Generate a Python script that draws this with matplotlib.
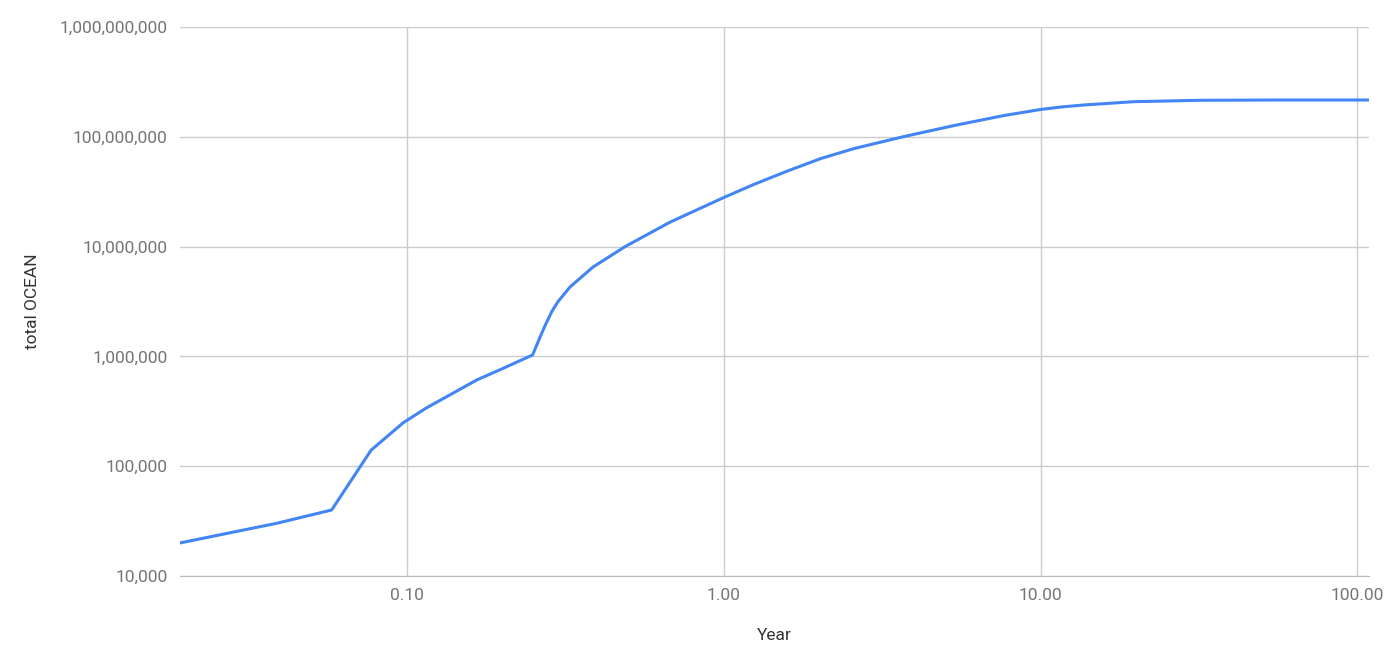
import matplotlib
matplotlib.use("Agg")
import matplotlib.pyplot as plt
from matplotlib.ticker import FixedLocator, FuncFormatter, NullLocator

plt.rcParams['font.family'] = ['Roboto', 'DejaVu Sans']

# values (log-log)
years = [0.0192, 0.0388, 0.0578, 0.077, 0.0973, 0.1154, 0.1335, 0.166, 0.2014,
         0.249, 0.263, 0.2727, 0.287, 0.2997, 0.327, 0.3866, 0.488, 0.6766,
         1.0, 1.246, 1.589, 2.024, 2.579, 3.71, 5.34, 7.67, 10.0, 11.6, 13.7,
         19.7, 31.9, 57.3, 109.0]
total_ocean = [20000, 30200, 39900, 140000, 249000, 341000, 430000, 610000, 780000,
               1.03e6, 1.50e6, 1.91e6, 2.59e6, 3.16e6, 4.29e6, 6.52e6, 1.0e7, 1.67e7,
               2.80e7, 3.69e7, 4.88e7, 6.34e7, 7.82e7, 1.006e8, 1.267e8, 1.563e8, 1.773e8,
               1.868e8, 1.948e8, 2.088e8, 2.150e8, 2.164e8, 2.164e8]

x_ticks = [0.1, 1, 10, 100]
y_ticks = [1e4, 1e5, 1e6, 1e7, 1e8, 1e9]

fig = plt.figure(figsize=(14, 6.52), dpi=100)
ax = fig.add_axes([0.1286, 0.1166, 0.8494, 0.842])

ax.plot(years, total_ocean, color='#4285F4', linewidth=2.2, solid_joinstyle='round')

ax.set_xscale('log')
ax.set_yscale('log')
ax.set_xlim(0.0192, 109)
ax.set_ylim(1e4, 1e9)

ax.xaxis.set_major_locator(FixedLocator(x_ticks))
ax.yaxis.set_major_locator(FixedLocator(y_ticks))
ax.xaxis.set_minor_locator(NullLocator())
ax.yaxis.set_minor_locator(NullLocator())
ax.xaxis.set_major_formatter(FuncFormatter(lambda v, p: f"{v:.2f}"))
ax.yaxis.set_major_formatter(FuncFormatter(lambda v, p: f"{v:,.0f}"))

ax.grid(True, color='#cccccc', linewidth=1)
ax.set_axisbelow(True)
for s in ['top', 'right', 'left']:
    ax.spines[s].set_visible(False)
ax.spines['bottom'].set_color('#bbbbbb')
ax.tick_params(length=0, labelsize=12.5, labelcolor='#757575')
ax.tick_params(axis='x', pad=9)
ax.tick_params(axis='y', pad=9)

ax.set_xlabel('Year', fontsize=12.5, color='#333333')
ax.set_ylabel('total OCEAN', fontsize=12.5, color='#333333')
ax.xaxis.set_label_coords(0.5, -0.094)
ax.yaxis.set_label_coords(-0.118, 0.5)

fig.savefig('out.png', dpi=100)
